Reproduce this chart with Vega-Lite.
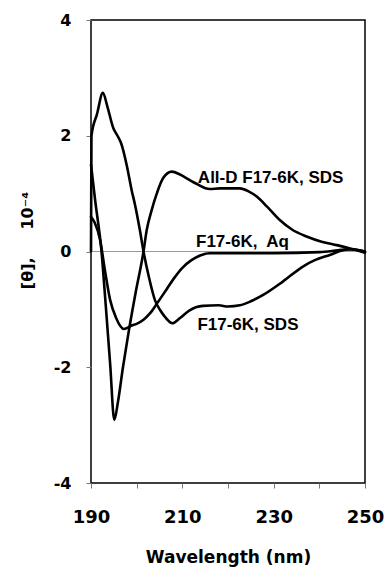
{
  "$schema": "https://vega.github.io/schema/vega-lite/v6.json",
  "width": 274,
  "height": 463,
  "autosize": {"type": "none"},
  "padding": {"left": 91, "top": 20, "right": 22, "bottom": 86},
  "background": "white",
  "config": {
    "view": {"stroke": "#000", "strokeWidth": 1.5},
    "axis": {"grid": false, "domain": false, "tickColor": "#777", "tickSize": 5, "labelColor": "#000", "titleColor": "#000"}
  },
  "datasets": {
    "curves": [
      {"series": "F17-6K, SDS", "nm": 190, "theta": 0.0},
      {"series": "F17-6K, SDS", "nm": 190.1, "theta": 2.0},
      {"series": "F17-6K, SDS", "nm": 191.3, "theta": 2.37},
      {"series": "F17-6K, SDS", "nm": 192.6, "theta": 2.74},
      {"series": "F17-6K, SDS", "nm": 193.6, "theta": 2.5},
      {"series": "F17-6K, SDS", "nm": 194.9, "theta": 2.13},
      {"series": "F17-6K, SDS", "nm": 195.8, "theta": 2.0},
      {"series": "F17-6K, SDS", "nm": 196.6, "theta": 1.87},
      {"series": "F17-6K, SDS", "nm": 197.8, "theta": 1.5},
      {"series": "F17-6K, SDS", "nm": 198.9, "theta": 1.06},
      {"series": "F17-6K, SDS", "nm": 199.6, "theta": 0.82},
      {"series": "F17-6K, SDS", "nm": 200.7, "theta": 0.37},
      {"series": "F17-6K, SDS", "nm": 201.5, "theta": 0.0},
      {"series": "F17-6K, SDS", "nm": 202.7, "theta": -0.45},
      {"series": "F17-6K, SDS", "nm": 204.0, "theta": -0.84},
      {"series": "F17-6K, SDS", "nm": 205.2, "theta": -1.02},
      {"series": "F17-6K, SDS", "nm": 206.2, "theta": -1.13},
      {"series": "F17-6K, SDS", "nm": 207.8, "theta": -1.24},
      {"series": "F17-6K, SDS", "nm": 209.5, "theta": -1.15},
      {"series": "F17-6K, SDS", "nm": 211.5, "theta": -1.02},
      {"series": "F17-6K, SDS", "nm": 214.5, "theta": -0.94},
      {"series": "F17-6K, SDS", "nm": 218.0, "theta": -0.93},
      {"series": "F17-6K, SDS", "nm": 220.0, "theta": -0.95},
      {"series": "F17-6K, SDS", "nm": 222.6, "theta": -0.93},
      {"series": "F17-6K, SDS", "nm": 225.0, "theta": -0.86},
      {"series": "F17-6K, SDS", "nm": 227.7, "theta": -0.75},
      {"series": "F17-6K, SDS", "nm": 232.0, "theta": -0.52},
      {"series": "F17-6K, SDS", "nm": 236.4, "theta": -0.26},
      {"series": "F17-6K, SDS", "nm": 239.0, "theta": -0.15},
      {"series": "F17-6K, SDS", "nm": 242.3, "theta": -0.06},
      {"series": "F17-6K, SDS", "nm": 245.6, "theta": 0.03},
      {"series": "F17-6K, SDS", "nm": 247.0, "theta": 0.04},
      {"series": "F17-6K, SDS", "nm": 250.0, "theta": 0.0},
      {"series": "All-D F17-6K, SDS", "nm": 190, "theta": 1.5},
      {"series": "All-D F17-6K, SDS", "nm": 190.9, "theta": 0.89},
      {"series": "All-D F17-6K, SDS", "nm": 192.3, "theta": 0.0},
      {"series": "All-D F17-6K, SDS", "nm": 193.2, "theta": -0.9},
      {"series": "All-D F17-6K, SDS", "nm": 194.2, "theta": -1.95},
      {"series": "All-D F17-6K, SDS", "nm": 195.1, "theta": -2.91},
      {"series": "All-D F17-6K, SDS", "nm": 195.9, "theta": -2.6},
      {"series": "All-D F17-6K, SDS", "nm": 197.0, "theta": -2.0},
      {"series": "All-D F17-6K, SDS", "nm": 198.2, "theta": -1.41},
      {"series": "All-D F17-6K, SDS", "nm": 199.8, "theta": -0.7},
      {"series": "All-D F17-6K, SDS", "nm": 201.5, "theta": 0.0},
      {"series": "All-D F17-6K, SDS", "nm": 202.2, "theta": 0.37},
      {"series": "All-D F17-6K, SDS", "nm": 203.3, "theta": 0.72},
      {"series": "All-D F17-6K, SDS", "nm": 204.4, "theta": 1.0},
      {"series": "All-D F17-6K, SDS", "nm": 205.8, "theta": 1.27},
      {"series": "All-D F17-6K, SDS", "nm": 207.7, "theta": 1.38},
      {"series": "All-D F17-6K, SDS", "nm": 209.5, "theta": 1.33},
      {"series": "All-D F17-6K, SDS", "nm": 211.7, "theta": 1.23},
      {"series": "All-D F17-6K, SDS", "nm": 213.1, "theta": 1.17},
      {"series": "All-D F17-6K, SDS", "nm": 216.0, "theta": 1.08},
      {"series": "All-D F17-6K, SDS", "nm": 218.2, "theta": 1.09},
      {"series": "All-D F17-6K, SDS", "nm": 222.6, "theta": 1.09},
      {"series": "All-D F17-6K, SDS", "nm": 224.5, "theta": 1.04},
      {"series": "All-D F17-6K, SDS", "nm": 226.3, "theta": 0.95},
      {"series": "All-D F17-6K, SDS", "nm": 228.5, "theta": 0.78},
      {"series": "All-D F17-6K, SDS", "nm": 231.4, "theta": 0.54},
      {"series": "All-D F17-6K, SDS", "nm": 234.0, "theta": 0.38},
      {"series": "All-D F17-6K, SDS", "nm": 237.2, "theta": 0.26},
      {"series": "All-D F17-6K, SDS", "nm": 240.5, "theta": 0.17},
      {"series": "All-D F17-6K, SDS", "nm": 243.8, "theta": 0.11},
      {"series": "All-D F17-6K, SDS", "nm": 246.0, "theta": 0.07},
      {"series": "All-D F17-6K, SDS", "nm": 250.0, "theta": -0.02},
      {"series": "F17-6K, Aq", "nm": 190, "theta": 0.6},
      {"series": "F17-6K, Aq", "nm": 190.8, "theta": 0.5},
      {"series": "F17-6K, Aq", "nm": 192.0, "theta": 0.2},
      {"series": "F17-6K, Aq", "nm": 193.0, "theta": -0.3},
      {"series": "F17-6K, Aq", "nm": 194.2, "theta": -0.84},
      {"series": "F17-6K, Aq", "nm": 195.5, "theta": -1.15},
      {"series": "F17-6K, Aq", "nm": 197.2, "theta": -1.34},
      {"series": "F17-6K, Aq", "nm": 198.9, "theta": -1.28},
      {"series": "F17-6K, Aq", "nm": 200.0, "theta": -1.25},
      {"series": "F17-6K, Aq", "nm": 201.5, "theta": -1.18},
      {"series": "F17-6K, Aq", "nm": 202.9, "theta": -1.07},
      {"series": "F17-6K, Aq", "nm": 204.7, "theta": -0.87},
      {"series": "F17-6K, Aq", "nm": 206.5, "theta": -0.66},
      {"series": "F17-6K, Aq", "nm": 208.2, "theta": -0.46},
      {"series": "F17-6K, Aq", "nm": 209.9, "theta": -0.29},
      {"series": "F17-6K, Aq", "nm": 212.0, "theta": -0.15},
      {"series": "F17-6K, Aq", "nm": 213.9, "theta": -0.07},
      {"series": "F17-6K, Aq", "nm": 216.0, "theta": -0.03},
      {"series": "F17-6K, Aq", "nm": 220.0, "theta": -0.03},
      {"series": "F17-6K, Aq", "nm": 230.0, "theta": -0.03},
      {"series": "F17-6K, Aq", "nm": 240.0, "theta": -0.01},
      {"series": "F17-6K, Aq", "nm": 244.0, "theta": 0.02},
      {"series": "F17-6K, Aq", "nm": 246.5, "theta": 0.04},
      {"series": "F17-6K, Aq", "nm": 250.0, "theta": 0.0}
    ],
    "labels": [
      {"label": "All-D F17-6K, SDS", "nm": 213.4, "theta": 1.27},
      {"label": "F17-6K,\u00a0 Aq", "nm": 213.0, "theta": 0.17},
      {"label": "F17-6K, SDS", "nm": 213.3, "theta": -1.27}
    ],
    "zero": [{"theta": 0}]
  },
  "layer": [
    {
      "data": {"name": "zero"},
      "mark": {"type": "rule", "color": "#999", "strokeWidth": 1},
      "encoding": {
        "y": {"field": "theta", "type": "quantitative", "scale": {"domain": [-4, 4], "nice": false}}
      }
    },
    {
      "data": {"name": "curves"},
      "mark": {"type": "line", "color": "#000", "strokeWidth": 2.6, "interpolate": "monotone", "strokeJoin": "round", "strokeCap": "round"},
      "encoding": {
        "x": {
          "field": "nm", "type": "quantitative",
          "scale": {"domain": [190, 250], "nice": false, "zero": false},
          "axis": {
            "values": [190, 200, 210, 220, 230, 240, 250],
            "format": "d",
            "labelExpr": "datum.value % 20 == 10 ? datum.label : ''",
            "labelFlush": false,
            "labelFont": "DejaVu Sans", "labelFontWeight": "bold", "labelFontSize": 18,
            "labelPadding": 20,
            "title": "Wavelength (nm)",
            "titleFont": "DejaVu Sans", "titleFontWeight": "bold", "titleFontSize": 17,
            "titlePadding": 23
          }
        },
        "y": {
          "field": "theta", "type": "quantitative",
          "scale": {"domain": [-4, 4], "nice": false},
          "axis": {
            "values": [-4, -2, 0, 2, 4],
            "format": "d",
            "labelExpr": "replace(datum.label, '−', '-')",
            "labelFont": "DejaVu Sans", "labelFontWeight": "bold", "labelFontSize": 16,
            "labelPadding": 15,
            "title": "[θ],\u00a0\u00a0\u00a0\u00a0\u00a010⁻⁴",
            "titleFont": "DejaVu Sans", "titleFontWeight": "bold", "titleFontSize": 16,
            "titleX": -64, "titleY": 220, "titleAngle": -90, "titleAlign": "center", "titleBaseline": "middle"
          }
        },
        "detail": {"field": "series", "type": "nominal"}
      }
    },
    {
      "data": {"name": "labels"},
      "mark": {"type": "text", "align": "left", "baseline": "middle", "font": "Liberation Sans", "fontWeight": "bold", "fontSize": 17, "color": "#000"},
      "encoding": {
        "x": {"field": "nm", "type": "quantitative"},
        "y": {"field": "theta", "type": "quantitative"},
        "text": {"field": "label"}
      }
    }
  ]
}
